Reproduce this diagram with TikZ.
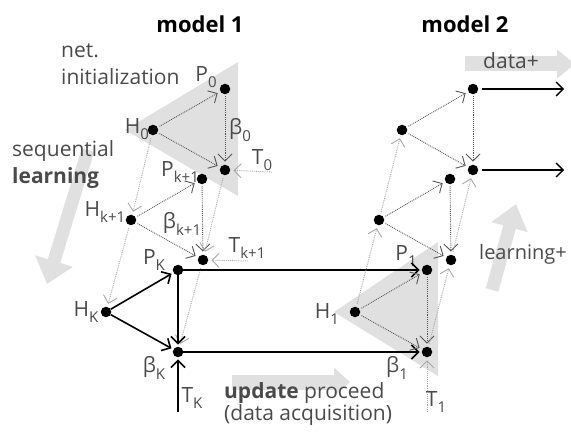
\documentclass[tikz,border=0pt]{standalone}
\usepackage{fontspec}
\setmainfont{Open Sans}
\usetikzlibrary{arrows.meta}
\definecolor{lbl}{HTML}{4A4A4A}
\definecolor{tri}{HTML}{E0E0E0}
\definecolor{dk}{HTML}{555555}
\definecolor{lt}{HTML}{A8A8A8}
\newcommand\sbs[1]{\raisebox{-0.3em}{\fontsize{15}{15}\selectfont #1}}
\tikzset{
  dot/.style={circle,fill=black,inner sep=0pt,minimum size=10.5pt},
  lab/.style={text=lbl,font=\fontsize{21}{23}\selectfont,inner sep=0pt},
  ttl/.style={text=black,font=\fontsize{22}{24}\selectfont\bfseries,inner sep=0pt},
  txt/.style={text=lbl,font=\fontsize{21}{23}\selectfont,inner sep=0pt,anchor=west},
  barb/.style={-{Straight Barb[length=7pt,width=14pt]}},
  solidarr/.style={barb, line width=1.6pt, black, shorten >=2pt},
  darkdot/.style={barb, densely dotted, dk, line width=0.9pt, shorten >=3pt, shorten <=2pt},
  lightdot/.style={barb, densely dotted, lt, line width=0.9pt, shorten >=3pt, shorten <=3pt},
  bigarrow/.style={tri, line cap=butt}
}
\begin{document}
\begin{tikzpicture}[x=1pt,y=-1pt]
\useasboundingbox (0,0) rectangle (571,433);
% background shapes
\fill[tri] (125,130) -- (238,62) -- (238,196) -- cycle;
\fill[tri] (334,312) -- (438,242) -- (438,376) -- cycle;
\draw[bigarrow, line width=13pt, -{Triangle[length=24pt,width=38pt]}] (88,150) -- (47,284);
\draw[bigarrow, line width=13pt, -{Triangle[length=24pt,width=36pt]}] (492,290) -- (516,204);
\draw[bigarrow, line width=15pt, -{Triangle[length=18pt,width=28pt]}] (465,64) -- (575,64);
\draw[bigarrow, line width=15pt, -{Triangle[length=16pt,width=28pt]}] (232,382) -- (350,382);
% titles and texts
\node[ttl] (m1) at (200,24) {model 1};
\node[ttl] (m2) at (465,24) {model 2};
\node[txt] (t1a) at (61,51) {net.};
\node[txt] (t1b) at (61,77) {initialization};
\node[txt] (t2a) at (12,151) {sequential};
\node[txt,font=\fontsize{21}{23}\selectfont\bfseries] (t2b) at (12,178) {learning};
\node[txt,font=\fontsize{20}{22}\selectfont] (t3) at (479,254) {learning+};
\node[txt] (t4) at (483,61) {data+};
\node[txt] (t5) at (224,393) {\textbf{update} proceed};
\node[txt] (t6) at (224,415) {(data acquisition)};
% dots model 1
\node[dot] (ha) at (153,130) {};
\node[dot] (pa) at (225,89) {};
\node[dot] (ba) at (225,170) {};
\node[dot] (hb) at (131,220) {};
\node[dot] (pb) at (202,179) {};
\node[dot] (bb) at (203,260) {};
\node[dot] (hc) at (106,312) {};
\node[dot] (pc) at (178,270) {};
\node[dot] (bc) at (178,352) {};
% dots model 2
\node[dot] (Ha) at (402,130) {};
\node[dot] (Pa) at (473,89) {};
\node[dot] (Ba) at (473,170) {};
\node[dot] (Hb) at (379,220) {};
\node[dot] (Pb) at (450,179) {};
\node[dot] (Bb) at (451,260) {};
\node[dot] (Hc) at (355,312) {};
\node[dot] (Pc) at (427,270) {};
\node[dot] (Bc) at (427,352) {};
% free ends
\coordinate (ta) at (272,172);
\coordinate (tb) at (248,261);
\coordinate (tc) at (178,412);
\coordinate (Tc) at (427,412);
\coordinate (oa) at (566,89);
\coordinate (ob) at (566,170);
% labels
\node[lab] (lpa) at (206,77) {P\sbs{0}};
\node[lab] (lha) at (137,129) {H\sbs{0}};
\node[lab] (lba) at (240,130) {β\sbs{0}};
\node[lab] (lta) at (262,160) {T\sbs{0}};
\node[lab] (lpb) at (180,172) {P\sbs{k+1}};
\node[lab] (lhb) at (105,212) {H\sbs{k+1}};
\node[lab] (lbb) at (182,224) {β\sbs{k+1}};
\node[lab] (ltb) at (247,248) {T\sbs{k+1}};
\node[lab] (lpc) at (154,260) {P\sbs{K}};
\node[lab] (lhc) at (86,312) {H\sbs{K}};
\node[lab] (lbc) at (154,368) {β\sbs{K}};
\node[lab] (ltc) at (192,398) {T\sbs{K}};
\node[lab] (lPc) at (406,256) {P\sbs{1}};
\node[lab] (lHc) at (327,314) {H\sbs{1}};
\node[lab] (lBc) at (397,368) {β\sbs{1}};
\node[lab] (lTc) at (436,402) {T\sbs{1}};
% model 1 connectors
\draw[darkdot] (ha) -- (pa);
\draw[darkdot] (ha) -- (ba);
\draw[darkdot] (pa) -- (ba);
\draw[darkdot] (hb) -- (pb);
\draw[darkdot] (hb) -- (bb);
\draw[darkdot] (pb) -- (bb);
\draw[lightdot] (ha) -- (hb);
\draw[lightdot] (hb) -- (hc);
\draw[lightdot] (ba) -- (bb);
\draw[lightdot] (bb) -- (bc);
\draw[lightdot,shorten <=0pt] (ta) -- (ba);
\draw[lightdot,shorten <=0pt] (tb) -- (bb);
\draw[solidarr] (hc) -- (pc);
\draw[solidarr] (hc) -- (bc);
\draw[solidarr] (pc) -- (bc);
\draw[solidarr] (tc) -- (bc);
\draw[solidarr] (pc) -- (Pc);
\draw[solidarr] (bc) -- (Bc);
% model 2 connectors
\draw[darkdot] (Ha) -- (Pa);
\draw[darkdot] (Ha) -- (Ba);
\draw[darkdot] (Pa) -- (Ba);
\draw[darkdot] (Hb) -- (Pb);
\draw[darkdot] (Hb) -- (Bb);
\draw[darkdot] (Pb) -- (Bb);
\draw[darkdot] (Hc) -- (Pc);
\draw[darkdot] (Hc) -- (Bc);
\draw[darkdot] (Pc) -- (Bc);
\draw[lightdot] (Hc) -- (Hb);
\draw[lightdot] (Hb) -- (Ha);
\draw[lightdot] (Bc) -- (Bb);
\draw[lightdot] (Bb) -- (Ba);
\draw[lightdot,shorten <=0pt] (Tc) -- (Bc);
\draw[solidarr,line width=1.3pt,shorten <=4pt] (Pa) -- (oa);
\draw[solidarr,line width=1.3pt,shorten <=4pt] (Ba) -- (ob);
\end{tikzpicture}
\end{document}
